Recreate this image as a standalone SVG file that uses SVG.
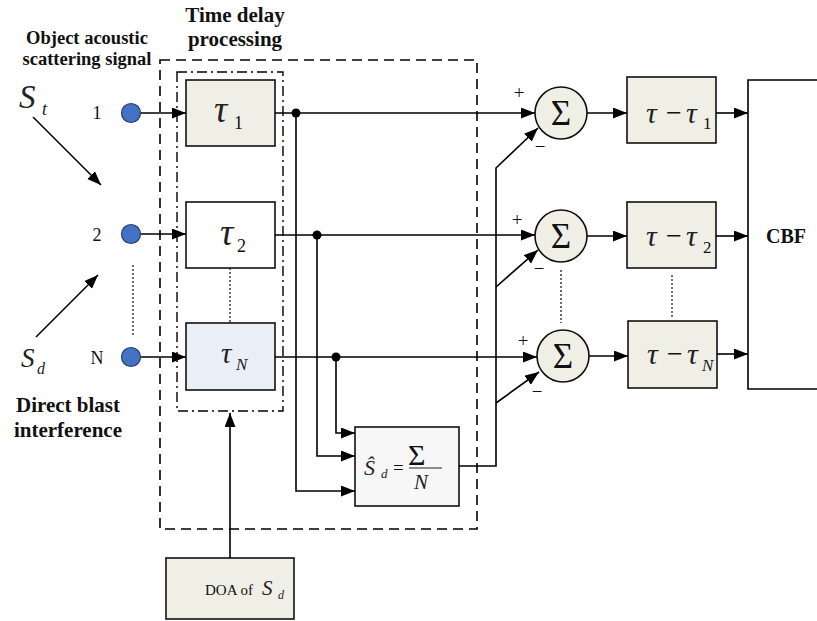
<svg xmlns="http://www.w3.org/2000/svg" width="817" height="621" viewBox="0 0 817 621">
<defs>
<marker id="ah" markerUnits="userSpaceOnUse" markerWidth="16" markerHeight="12" refX="14" refY="5.5" orient="auto">
<path d="M0,0 L14,5.5 L0,11 Z" fill="#000"/>
</marker>
<style>
.box{stroke:#111;stroke-width:1.6}
.g{fill:#efefe6}
.ln{fill:none;stroke:#000;stroke-width:1.6}
.dot{fill:none;stroke:#222;stroke-width:1.3;stroke-dasharray:2,2}
text{font-family:'Liberation Serif','Times New Roman','DejaVu Serif',serif}
.t{fill:#111}
.b{font-weight:bold;fill:#111}
.i{font-style:italic;fill:#222}
</style>
</defs>
<rect width="817" height="621" fill="#fff"/>

<g id="frames">
<rect x="160" y="60" width="317" height="469" fill="none" stroke="#000" stroke-width="1.6" stroke-dasharray="10,6"/>
<rect x="177" y="72" width="106" height="339" fill="none" stroke="#000" stroke-width="1.4" stroke-dasharray="10,4,2,4"/>
</g>

<g id="titles">
<text class="b" x="235" y="22" font-size="21" text-anchor="middle">Time delay</text>
<text class="b" x="235" y="46" font-size="21" text-anchor="middle">processing</text>
<text class="b" x="87" y="44" font-size="18.5" text-anchor="middle">Object acoustic</text>
<text class="b" x="87" y="65" font-size="18.5" text-anchor="middle">scattering signal</text>
<text class="b" x="68" y="412" font-size="21" text-anchor="middle">Direct blast</text>
<text class="b" x="68" y="437" font-size="21" text-anchor="middle">interference</text>
<text class="i" x="19" y="108" font-size="33">S</text>
<text class="i" x="42" y="115" font-size="18">t</text>
<text class="i" x="21" y="367" font-size="27">S</text>
<text class="i" x="37" y="374" font-size="16">d</text>
</g>

<g id="sensors">
<g id="s1"><circle cx="131" cy="113" r="9.5" fill="#4472c4" stroke="#2a3f6a" stroke-width="1.2"/><text class="t" x="97" y="119" font-size="18" text-anchor="middle">1</text></g>
<g id="s2"><circle cx="131" cy="234" r="9.5" fill="#4472c4" stroke="#2a3f6a" stroke-width="1.2"/><text class="t" x="97" y="241" font-size="18" text-anchor="middle">2</text></g>
<g id="sN"><circle cx="131" cy="357" r="9.5" fill="#4472c4" stroke="#2a3f6a" stroke-width="1.2"/><text class="t" x="97" y="364" font-size="18" text-anchor="middle">N</text></g>
</g>

<g id="tau1"><rect class="box g" x="186" y="80" width="89" height="66"/><text class="i" x="214" y="122" font-size="37">τ</text><text class="t" x="234" y="129" font-size="18">1</text></g>
<g id="tau2"><rect class="box" fill="#fff" x="186" y="202" width="89" height="66"/><text class="i" x="220" y="245" font-size="37">τ</text><text class="t" x="237" y="252" font-size="18">2</text></g>
<g id="tauN"><rect class="box" fill="#e9eef7" x="186" y="323" width="89" height="67"/><text class="i" x="221" y="363" font-size="29">τ</text><text class="i" x="236" y="370" font-size="17">N</text></g>

<g id="sd">
<rect class="box" fill="#f7f7f7" x="355" y="427" width="104" height="79"/>
<text class="i" x="364" y="475" font-size="22">Ŝ</text>
<text class="i" x="381" y="478" font-size="13">d</text>
<text class="t" x="393" y="474" font-size="19">=</text>
<text class="t" x="408" y="465" font-size="30">Σ</text>
<line x1="409" y1="468" x2="442" y2="468" stroke="#222" stroke-width="1.2"/>
<text class="i" x="414" y="489" font-size="21">N</text>
</g>

<g id="doa"><rect class="box g" x="166" y="558" width="128" height="61"/><text class="t" x="205" y="595" font-size="15">DOA of</text><text class="i" x="262" y="595" font-size="21">S</text><text class="i" x="278" y="599" font-size="12">d</text></g>

<g id="sum1"><circle cx="561" cy="113" r="26" fill="#efefe6" stroke="#111" stroke-width="1.6"/><text class="t" x="561" y="125" font-size="35" text-anchor="middle">Σ</text><text class="t" x="519" y="99" font-size="19" text-anchor="middle">+</text><text class="t" x="540" y="153" font-size="19" text-anchor="middle">−</text></g>
<g id="sum2"><circle cx="561" cy="236" r="26" fill="#efefe6" stroke="#111" stroke-width="1.6"/><text class="t" x="561" y="248" font-size="35" text-anchor="middle">Σ</text><text class="t" x="517" y="226" font-size="19" text-anchor="middle">+</text><text class="t" x="539" y="275" font-size="19" text-anchor="middle">−</text></g>
<g id="sumN"><circle cx="563" cy="356" r="26" fill="#efefe6" stroke="#111" stroke-width="1.6"/><text class="t" x="563" y="368" font-size="35" text-anchor="middle">Σ</text><text class="t" x="523" y="347" font-size="19" text-anchor="middle">+</text><text class="t" x="537" y="398" font-size="19" text-anchor="middle">−</text></g>

<g id="d1"><rect class="box g" x="627" y="77" width="89" height="66"/><text class="i" x="646" y="123" font-size="30">τ</text><text class="t" x="666" y="122" font-size="28">−</text><text class="i" x="686" y="123" font-size="30">τ</text><text class="t" x="703" y="129" font-size="17">1</text></g>
<g id="d2"><rect class="box g" x="627" y="202" width="89" height="66"/><text class="i" x="646" y="246" font-size="30">τ</text><text class="t" x="666" y="245" font-size="28">−</text><text class="i" x="686" y="246" font-size="30">τ</text><text class="t" x="703" y="253" font-size="17">2</text></g>
<g id="dN"><rect class="box g" x="628" y="321" width="89" height="67"/><text class="i" x="647" y="364" font-size="30">τ</text><text class="t" x="667" y="363" font-size="28">−</text><text class="i" x="687" y="364" font-size="30">τ</text><text class="i" x="702" y="371" font-size="17">N</text></g>

<g id="cbf"><path d="M820,80 H748 V389 H820" class="ln"/><text class="b" x="766" y="243" font-size="20">CBF</text></g>

<g id="connectors">
<line class="ln" x1="141" y1="113" x2="186" y2="113" marker-end="url(#ah)"/>
<line class="ln" x1="141" y1="234" x2="186" y2="234" marker-end="url(#ah)"/>
<line class="ln" x1="141" y1="357" x2="186" y2="357" marker-end="url(#ah)"/>
<line class="ln" x1="275" y1="113" x2="535" y2="113" marker-end="url(#ah)"/>
<line class="ln" x1="275" y1="235" x2="535" y2="235" marker-end="url(#ah)"/>
<line class="ln" x1="275" y1="357" x2="537" y2="357" marker-end="url(#ah)"/>
<circle cx="296" cy="113" r="4.5" fill="#000"/>
<circle cx="317" cy="235" r="4.5" fill="#000"/>
<circle cx="336" cy="357" r="4.5" fill="#000"/>
<path class="ln" d="M296,113 V491 H355" marker-end="url(#ah)"/>
<path class="ln" d="M317,235 V456 H355" marker-end="url(#ah)"/>
<path class="ln" d="M336,357 V433 H355" marker-end="url(#ah)"/>
<path class="ln" d="M459,466 H496 V168 L538,128" marker-end="url(#ah)"/>
<line class="ln" x1="496" y1="287" x2="538" y2="250" marker-end="url(#ah)"/>
<line class="ln" x1="496" y1="403" x2="539" y2="372" marker-end="url(#ah)"/>
<line class="ln" x1="587" y1="113" x2="627" y2="113" marker-end="url(#ah)"/>
<line class="ln" x1="587" y1="236" x2="627" y2="236" marker-end="url(#ah)"/>
<line class="ln" x1="589" y1="356" x2="628" y2="356" marker-end="url(#ah)"/>
<line class="ln" x1="716" y1="113" x2="748" y2="113" marker-end="url(#ah)"/>
<line class="ln" x1="716" y1="236" x2="748" y2="236" marker-end="url(#ah)"/>
<line class="ln" x1="717" y1="354" x2="748" y2="354" marker-end="url(#ah)"/>
<line class="ln" x1="230" y1="558" x2="230" y2="413" marker-end="url(#ah)"/>
<line class="ln" x1="33" y1="117" x2="101" y2="185" marker-end="url(#ah)"/>
<line class="ln" x1="36" y1="337" x2="98" y2="275" marker-end="url(#ah)"/>
<line class="dot" x1="133" y1="265" x2="133" y2="335"/>
<line class="dot" x1="230" y1="268" x2="230" y2="322"/>
<line class="dot" x1="561" y1="270" x2="561" y2="323"/>
<line class="dot" x1="672" y1="275" x2="672" y2="318"/>
</g>
</svg>
